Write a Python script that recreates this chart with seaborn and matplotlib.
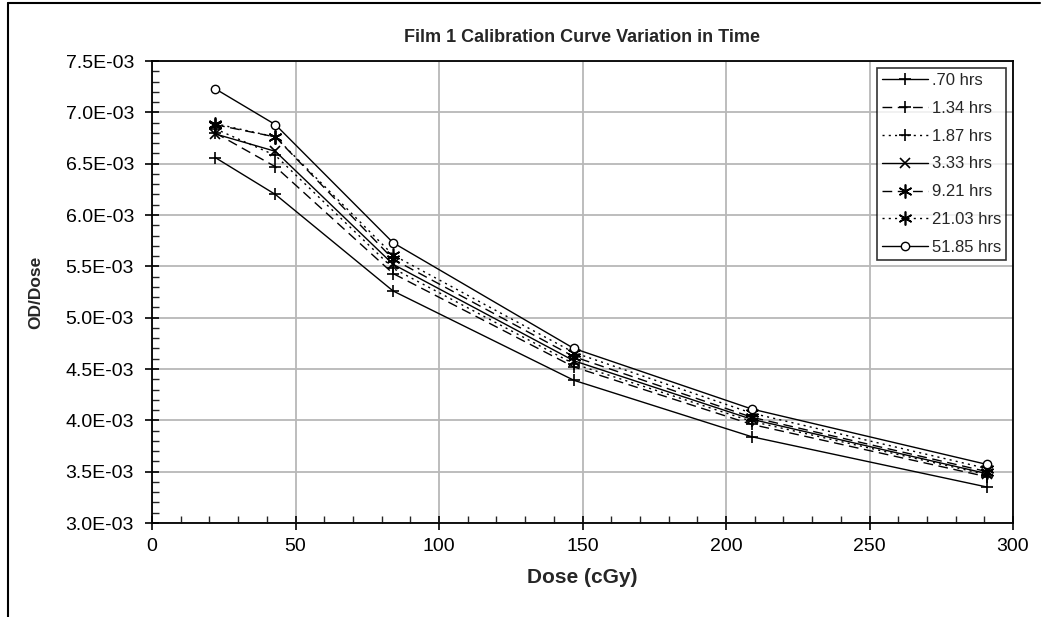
import matplotlib
matplotlib.use("Agg")
import matplotlib.pyplot as plt
import seaborn as sns
import numpy as np
from matplotlib.ticker import MultipleLocator, FuncFormatter
from matplotlib.lines import Line2D

dose = [22, 43, 84, 147, 209, 291]
labels = [".70 hrs", "1.34 hrs", "1.87 hrs", "3.33 hrs", "9.21 hrs", "21.03 hrs", "51.85 hrs"]
s_070 = [6.56e-3, 6.20e-3, 5.26e-3, 4.39e-3, 3.84e-3, 3.35e-3]
s_134 = [6.80e-3, 6.47e-3, 5.43e-3, 4.52e-3, 3.96e-3, 3.45e-3]
s_187 = [6.84e-3, 6.58e-3, 5.48e-3, 4.55e-3, 3.99e-3, 3.47e-3]
s_333 = [6.79e-3, 6.62e-3, 5.52e-3, 4.58e-3, 4.01e-3, 3.48e-3]
s_921 = [6.88e-3, 6.76e-3, 5.57e-3, 4.62e-3, 4.03e-3, 3.50e-3]
s_2103 = [6.89e-3, 6.76e-3, 5.61e-3, 4.66e-3, 4.07e-3, 3.53e-3]
s_5185 = [7.23e-3, 6.88e-3, 5.73e-3, 4.70e-3, 4.11e-3, 3.57e-3]
series = [s_070, s_134, s_187, s_333, s_921, s_2103, s_5185]

sns.set_style("white")
plt.rcParams['font.family'] = ['Liberation Sans', 'DejaVu Sans']

fig = plt.figure(figsize=(10.47, 6.17), dpi=100)
ax = fig.add_axes([152/1047, 1-523/617, (1013-152)/1047, (523-61)/617])

dash = (0, (7, 4))
dot = (0, (1.5, 3))
asterisk = (6, 2, 0)
styles = [
    dict(linestyle='-', marker='+', ms=9, mew=1.2),
    dict(linestyle=dash, marker='+', ms=9, mew=1.2),
    dict(linestyle=dot, marker='+', ms=9, mew=1.2),
    dict(linestyle='-', marker='x', ms=7, mew=1.2),
    dict(linestyle=dash, marker=asterisk, ms=10, mew=1.2),
    dict(linestyle=dot, marker=asterisk, ms=10, mew=1.2),
    dict(linestyle='-', marker='o', ms=6, mew=1.0, mfc='white'),
]
for lab, vals, st in zip(labels, series, styles):
    sns.lineplot(x=dose, y=vals, ax=ax, color='black', linewidth=1.0, label=lab,
                 mec='black', **st)

ax.set_xlim(0, 300)
ax.set_ylim(3.0e-3, 7.5e-3)
ax.xaxis.set_major_locator(MultipleLocator(50))
ax.xaxis.set_minor_locator(MultipleLocator(10))
ax.yaxis.set_major_locator(MultipleLocator(0.5e-3))
ax.yaxis.set_minor_locator(MultipleLocator(0.1e-3))
ax.yaxis.set_major_formatter(FuncFormatter(lambda v, p: f"{v:.1E}"))
ax.grid(True, which='major', color='#b8b8b8', linewidth=1.3)
ax.set_axisbelow(True)
for sp in ax.spines.values():
    sp.set_color('black')
    sp.set_linewidth(1.3)
ax.tick_params(axis='both', which='major', direction='inout', length=10, width=1.2,
               labelsize=14, colors='black', left=True, bottom=True)
ax.tick_params(axis='both', which='minor', direction='in', length=5, width=1.0,
               left=True, bottom=True)
ax.tick_params(axis='y', which='major', pad=8)
ax.tick_params(axis='x', which='major', pad=6)

ax.set_xlabel("Dose (cGy)", fontsize=15, fontweight='bold', labelpad=9)
ax.set_ylabel("OD/Dose", fontsize=12.5, fontweight='bold', labelpad=16)
ax.set_title("Film 1 Calibration Curve Variation in Time", fontsize=13, fontweight='bold', pad=14)

leg = ax.legend(loc='upper right', bbox_to_anchor=(1006/1047, 1-68/617),
                bbox_transform=fig.transFigure, frameon=True, fancybox=False,
                edgecolor='black', fontsize=12, handlelength=2.8, labelspacing=0.77,
                borderpad=0.3, handletextpad=0.2, borderaxespad=0)
leg.get_frame().set_linewidth(1.2)

fig.add_artist(Line2D([8/1047, 8/1047], [0, 1-3/617], transform=fig.transFigure,
                      color='black', linewidth=1.5))
fig.add_artist(Line2D([8/1047, 1040/1047], [1-3/617, 1-3/617], transform=fig.transFigure,
                      color='black', linewidth=1.5))

fig.savefig("out.png", dpi=100)
